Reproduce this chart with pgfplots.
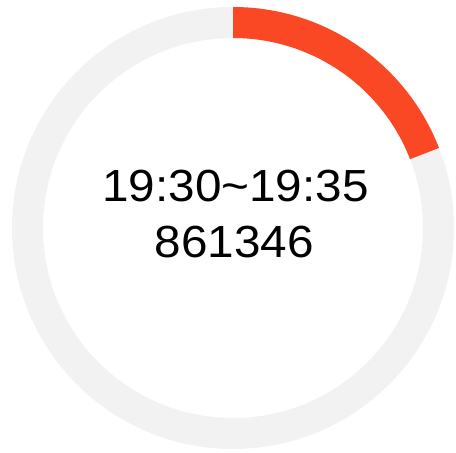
\documentclass[border=0pt]{standalone}
\usepackage{pgfplots}
\usepackage{pgfplotstable}
\pgfplotsset{compat=1.18}
\usepackage{fontspec}
\setmainfont{Liberation Sans}
\definecolor{ringred}{RGB}{250,72,36}
\definecolor{ringgray}{RGB}{242,242,242}
\pgfplotstableread{
part value
slot 19.1
rest 80.9
}\ringdata
\begin{document}
\begin{tikzpicture}
\begin{axis}[
  scale only axis, width=456pt, height=453pt,
  xmin=0, xmax=456, ymin=0, ymax=453,
  hide axis, clip=false]
\path (axis cs:0,0) rectangle (axis cs:456,453);
\pgfplotstablegetelem{0}{value}\of\ringdata
\pgfmathsetmacro{\endang}{90-360*\pgfplotsretval/100}
% grey full ring
\fill[ringgray, even odd rule] (axis cs:233,225) circle[radius=221]
      (axis cs:233,225) circle[radius=190];
% red segment
\fill[ringred] (axis cs:233,446) arc[start angle=90, end angle=\endang, radius=221]
   -- ++({\endang}:-31) arc[start angle=\endang, end angle=90, radius=190] -- cycle;
\node[font=\fontsize{45}{54}\selectfont, inner sep=0pt] at (axis cs:235.5,267) {\scalebox{1.06}[1]{19:30\char`~19:35}};
\node[font=\fontsize{45}{54}\selectfont, inner sep=0pt] at (axis cs:234.5,211) {\scalebox{1.06}[1]{861346}};
\end{axis}
\end{tikzpicture}
\end{document}
